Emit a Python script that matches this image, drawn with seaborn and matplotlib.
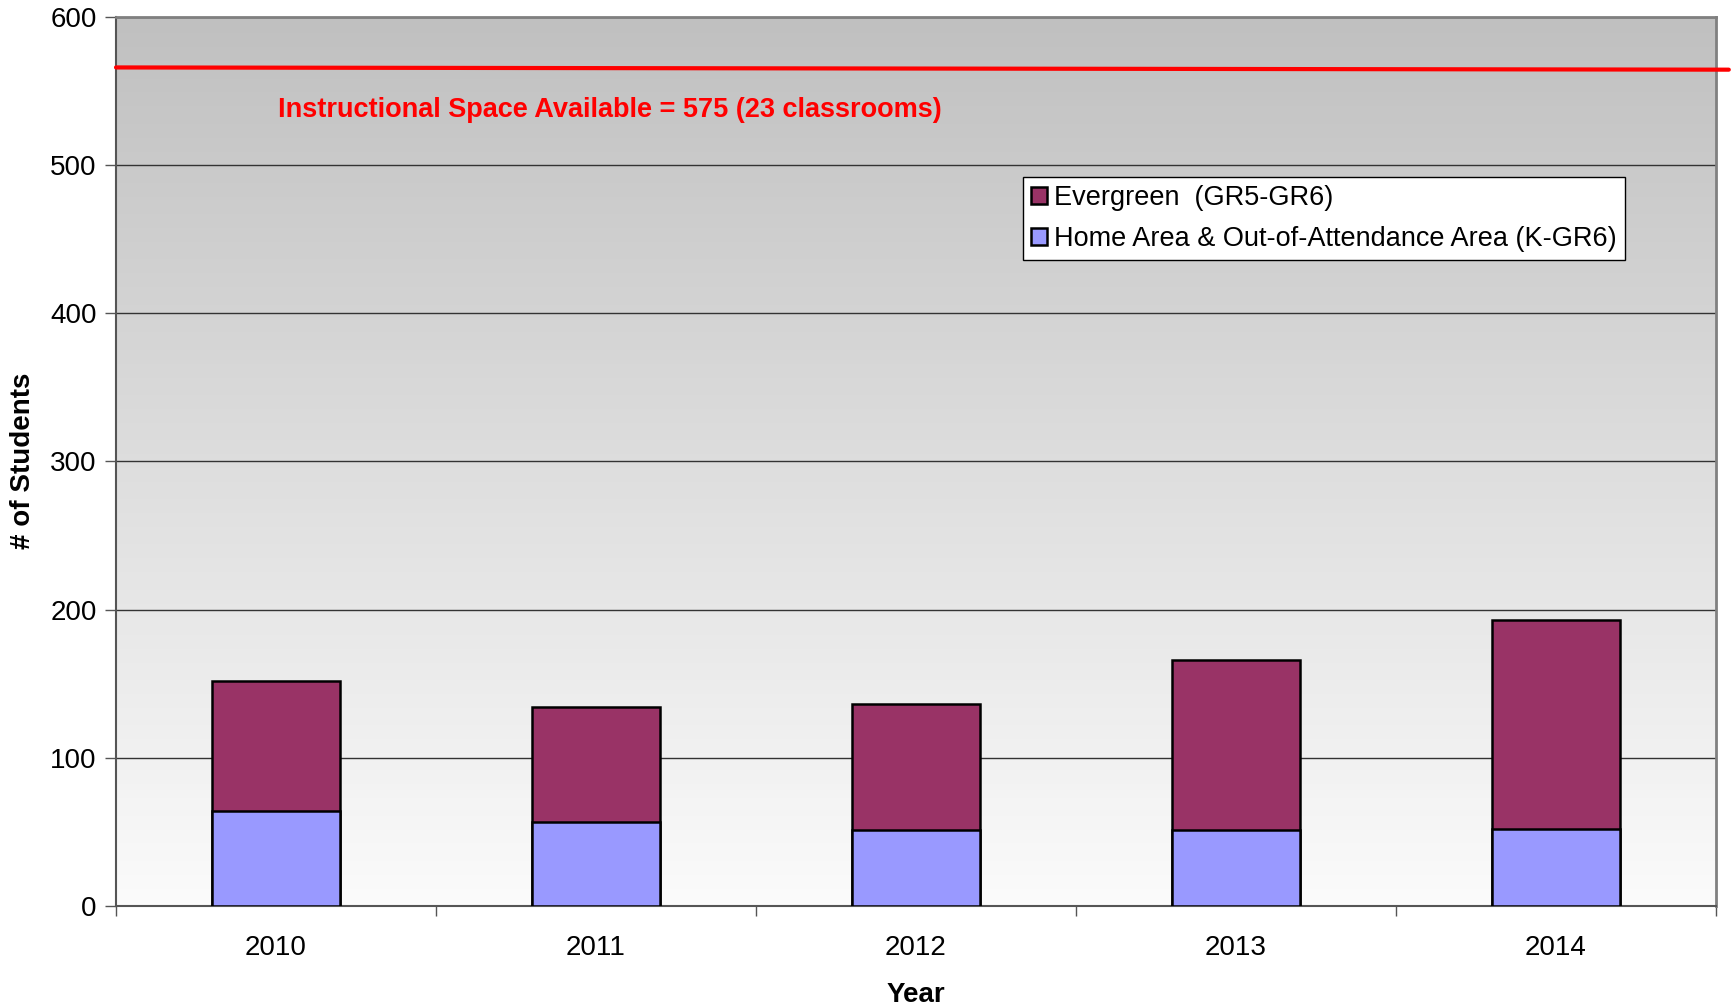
import numpy as np
import pandas as pd
import matplotlib
matplotlib.use("Agg")
import matplotlib.pyplot as plt
import seaborn as sns
from matplotlib.patches import Patch
from matplotlib.colors import LinearSegmentedColormap

# ---- data ----
years = ["2010", "2011", "2012", "2013", "2014"]
home_area = [64, 57, 51, 51, 52]
evergreen = [88, 77, 85, 115, 141]
capacity_line = [565.7, 564.2]
capacity_label = "Instructional Space Available = 575 (23 classrooms)"
series_names = ["Evergreen  (GR5-GR6)", "Home Area & Out-of-Attendance Area (K-GR6)"]
y_ticks = [0, 100, 200, 300, 400, 500, 600]

totals = [h + e for h, e in zip(home_area, evergreen)]
df = pd.DataFrame({"Year": years, "home": home_area, "total": totals})

sns.set_theme(style="white")
plt.rcParams["font.family"] = ["Liberation Sans", "DejaVu Sans"]
plt.rcParams["text.color"] = "black"
plt.rcParams["axes.labelcolor"] = "black"
plt.rcParams["xtick.labelcolor"] = "black"
plt.rcParams["ytick.labelcolor"] = "black"

W, H = 1733, 1006
L, R, T, B = 116, 1716, 16.6, 906
fig = plt.figure(figsize=(W / 100, H / 100), dpi=100)
ax = fig.add_axes([L / W, 1 - B / H, (R - L) / W, (B - T) / H])

# gradient background
cmap = LinearSegmentedColormap.from_list("bg", ["#fbfbfb", "#c0c0c0"])
grad = np.linspace(0, 1, 256).reshape(-1, 1)
ax.imshow(grad, cmap=cmap, origin="lower", extent=[0, 1, 0, 1],
          transform=ax.transAxes, aspect="auto", zorder=0)

purple = "#993366"
lav = "#9999ff"
sns.barplot(data=df, x="Year", y="total", color=purple, width=0.4,
            edgecolor="black", linewidth=1.8, saturation=1, ax=ax, zorder=3)
sns.barplot(data=df, x="Year", y="home", color=lav, width=0.4,
            edgecolor="black", linewidth=1.8, saturation=1, ax=ax, zorder=4)

ax.set_xlim(-0.5, 4.5)
ax.set_ylim(0, 600)
ax.set_yticks(y_ticks)
ax.set_yticklabels([str(v) for v in y_ticks], fontsize=20)
ax.yaxis.grid(True, color="#333333", linewidth=1.0, zorder=1)
ax.set_axisbelow(True)

# x ticks: labels at centers, tick marks at boundaries
ax.set_xticks(range(len(years)))
ax.set_xticklabels(years, fontsize=20)
ax.set_xticks(np.arange(-0.5, 5, 1), minor=True)
ax.tick_params(axis="x", which="major", length=0, pad=21)
ax.tick_params(axis="x", which="minor", length=7, width=1, color="#555555", direction="out", bottom=True)
ax.tick_params(axis="y", which="major", length=8, width=1, color="#555555", direction="out", left=True, pad=6)

ax.set_xlabel("Year", fontsize=20, fontweight="bold", labelpad=15)
ax.set_ylabel("# of Students", fontsize=20, fontweight="bold")
ax.yaxis.set_label_coords((36 - L) / (R - L), 0.5)

for s in ["top", "right"]:
    ax.spines[s].set_color("#808080")
    ax.spines[s].set_linewidth(2)
for s in ["left", "bottom"]:
    ax.spines[s].set_color("#555555")
    ax.spines[s].set_linewidth(1.5)

# capacity line
ax.plot([-0.5, 4.54], capacity_line, color="red", linewidth=3, clip_on=False, zorder=5)
ax.text(0.005, 537, capacity_label, color="red", fontsize=19.5, fontweight="bold",
        ha="left", va="center", zorder=6)

# legend
handles = [Patch(facecolor=purple, edgecolor="black", linewidth=1.8),
           Patch(facecolor=lav, edgecolor="black", linewidth=1.8)]
leg = ax.legend(handles, series_names, loc="upper left",
                bbox_to_anchor=((1023 - L) / (R - L), (B - 177) / (B - T)),
                fontsize=19.5, frameon=True, fancybox=False, framealpha=1,
                edgecolor="black", handlelength=0.6, handleheight=0.6,
                handletextpad=0.25, borderpad=0.3, labelspacing=0.55, borderaxespad=0)
leg.get_frame().set_linewidth(1.0)
leg.set_zorder(7)

fig.savefig("out.png", dpi=100)
